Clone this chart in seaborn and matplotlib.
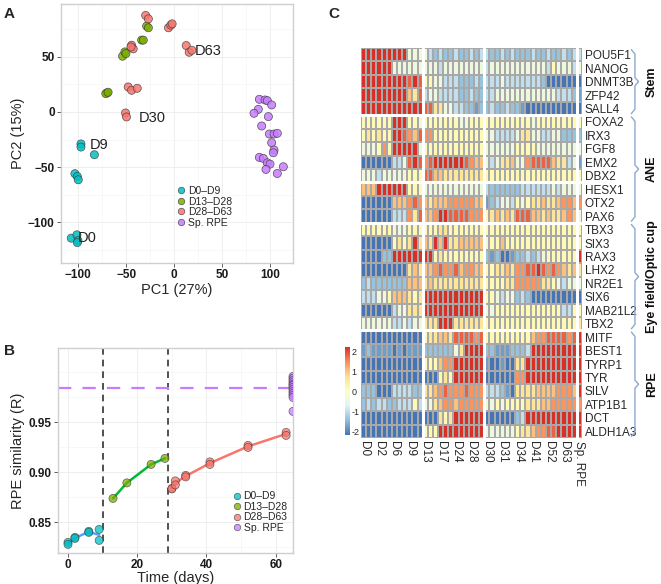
import numpy as np
import pandas as pd
import matplotlib
matplotlib.use("Agg")
import matplotlib.pyplot as plt
import seaborn as sns
from matplotlib.colors import LinearSegmentedColormap

# ---------------- panel A: PCA ----------------
groups = ["D0–D9", "D13–D28", "D28–D63", "Sp. RPE"]
point_colors = ["#00BFC4", "#7CAE00", "#F8766D", "#C77CFF"]
line_colors = ["#619CFF", "#00BA38", "#F8766D"]

pc1_d0_d9 = [-107.3, -101.4, -100.3, -101.0, -103.5, -101.0, -100.0, -97.2, -97.2, -83.2]
pc2_d0_d9 = [-114.5, -111.5, -116.7, -118.5, -56.0, -58.5, -61.5, -29.0, -31.8, -38.8]
pc1_d13_d28 = [-70.0, -71.3, -68.9, -53.8, -51.4, -50.3, -33.9, -32.2, -28.7, -26.9]
pc2_d13_d28 = [17.3, 16.7, 17.9, 50.6, 54.5, 53.0, 65.2, 65.2, 77.9, 76.4]
pc1_d28_d63 = [-29.7, -26.9, -5.9, -3.5, -2.1, 12.6, 15.7, 18.5, -44.4, -42.7, -45.0,
               -47.9, -44.4, -38.5, -50.7, -49.7]
pc2_d28_d63 = [87.6, 84.5, 76.4, 78.8, 80.0, 60.3, 54.2, 56.0, 60.6, 57.3, 59.0,
               22.7, 19.7, 21.5, -0.9, -4.5]
pc1_sp_rpe = [88.9, 94.8, 97.2, 101.7, 87.8, 83.3, 98.3, 91.3, 99.3, 104.2, 107.6,
              101.7, 104.2, 103.5, 88.9, 93.0, 97.2, 100.0, 95.8, 107.6, 113.9]
pc2_sp_rpe = [11.5, 10.9, 10.3, 6.4, 2.4, -1.2, -4.2, -12.7, -20.0, -20.0, -19.4,
              -27.9, -34.5, -37.0, -41.2, -42.1, -46.1, -47.3, -52.1, -55.8, -49.7]
pca_labels = ["D0", "D9", "D30", "D63"]
pca_label_pc1 = [-100.3, -88.1, -36.4, 22.0]
pca_label_pc2 = [-114.5, -29.7, -5.5, 55.0]

# ---------------- panel B: RPE similarity ----------------
day_d0_d9 = [0, 0, 2, 2, 6, 6, 9, 9]
r_d0_d9 = [0.830, 0.828, 0.835, 0.834, 0.841, 0.840, 0.843, 0.832]
day_d13_d28 = [13, 17, 24, 28]
r_d13_d28 = [0.874, 0.8895, 0.908, 0.914]
day_d28_d63 = [30, 30, 31, 31, 34, 34, 41, 41, 52, 52, 63, 63]
r_d28_d63 = [0.884, 0.8835, 0.8915, 0.8875, 0.897, 0.8955, 0.9105, 0.908,
             0.927, 0.925, 0.940, 0.937]
day_sp_rpe = [65] * 13
r_sp_rpe = [0.996, 0.994, 0.992, 0.990, 0.988, 0.987, 0.985, 0.983, 0.981,
            0.979, 0.977, 0.975, 0.961]
sp_rpe_mean = 0.984
stage_breaks = [10, 29]

# ---------------- panel C: heatmap ----------------
# cell codes, blocks: D0-D9 (12) | D13-D28 (12) | D30-D63 (18) | Sp. RPE (1)
level = {"B": -2.2, "b": -1.8, "m": -1.4, "l": -1.0, "w": -0.4, "y": 0.15,
         "Y": 0.6, "o": 1.0, "O": 1.4, "r": 1.8, "R": 2.2}
stem_genes = ["POU5F1", "NANOG", "DNMT3B", "ZFP42", "SALL4"]
stem_rows = [
    "RRRRRRRRRwww wlmlmmlmmlml lmmlmlmmmlmmlmmlml l",
    "RRRRRRwwwwww wwwlwwwwwwww lwwwwwwwwwwwlywwwl w",
    "RRRRRRRRRrRr yywwlllmmmlm lllwlllllllmBBBBBB B",
    "RRRRRRRRRoYr lwwllllmmlmm llwwwwwwwwwwwwlllm b",
    "RRRRRRRRRRRR rrYYwwllmmbm mlmmlmmbBBBBBBBBBB B",
]
ane_genes = ["FOXA2", "IRX3", "FGF8", "EMX2", "DBX2", "HESX1", "OTX2", "PAX6"]
ane_rows = [
    "yyyyyyRRRyyw yyyyyyywwyyy yyyyyyyyywyyyyyyyy y",
    "yYyYyyRRrOor OOyyyyyyyyyy wwllllwYYwwllwwmmm m",
    "wwwyOyRRRRRw yyyyyyyyyyyy wwwwwwyyyywwwwwwww w",
    "BBBBBBllwrRr OrRRRRRRrOoo wlwYYowwOrrrroYYlw b",
    "wwwlwwwwwyyy rrooYYYYYYYY yyyyyyyyyyyyyyyyyy y",
    "oooRRRRRRyyy wwwwwwwwwwww lmmmmmmllllllwlwww w",
    "BBBBBBoooOrO oYoooOOOOOoo bmlwwlywyYYoYYoOOo O",
    "BBBBBBlllOYr ooORRrrrrOOO yYoYoYrrrooYoYYoOo w",
]
eye_genes = ["TBX3", "SIX3", "RAX3", "LHX2", "NR2E1", "SIX6", "MAB21L2", "TBX2"]
eye_rows = [
    "yyyyyywwwyyy yyyYYyyyyyyy yyyyyyyyyyyyyyyyyy y",
    "BBBBBByYyYRY oYRoRYYooooo wyyoyyyyyyyyyyyyyy y",
    "BBBBmmRRRRRR RRyYyyyyyyyy mbmBBbmmlmlwyyyyyy R",
    "BBBBBBBBBYoY ooOrOOroOOoo yyYYoYOOrrRrOrOoYo Y",
    "mlmmmmmmmooo YoYYYYYYYYYY yyyyYYOOOOOYYywlww w",
    "lllwwyoooYyY RRRRRRRRRRRR yywlwwmlmBBBBBBBBB B",
    "BBBBBBlwwYYY RRRRRRRRRRRR wwyyyyyyyyyyyyylly y",
    "wwwwwwllwlww YYYRRRYYYYYY yyyyyyyyyyyyyyyyyy Y",
]
rpe_genes = ["MITF", "BEST1", "TYRP1", "TYR", "SILV", "ATP1B1", "DCT", "ALDH1A3"]
rpe_rows = [
    "BBBBBBBBBBBB yYYooYrrrrOr yyyyyyyyyoOOrrrrOr R",
    "bmbbbbBbBbbb mmmmmmwYRRRR mmbbbmmmlRRRRRRRRR R",
    "BBBBBBBBBBBB yyyoOORRRRRR bBBbBBYYRRRRRRRRRR R",
    "BBBBBBBBBBBB BBByYyRRRRRR BBBBBBOORRRRRRRRRR R",
    "mmmBBBllllmm YYoOrOOOrOOO lllmbBYYYYooooOOOo R",
    "mlmllmmlllyl wwYoOOoOOOOO wwywyyyyYYYooOOOOO O",
    "BBBBBBBBBBBB BBBYyYRRRRRR BBBBBBmlRRRRRRRRRR R",
    "BBBBBBBBBBBB yyyRRRRRRRRR wwwwwwyYYoOOrrRRRR R",
]
sample_labels = ["D0", "D2", "D6", "D9", "D13", "D17", "D24", "D28", "D30", "D31",
                 "D34", "D41", "D52", "D63", "Sp. RPE"]
group_names = ["Stem", "ANE", "Eye field/Optic cup", "RPE"]

# ---------------- build tables ----------------
pca_df = pd.concat([
    pd.DataFrame({"PC1": pc1_d0_d9, "PC2": pc2_d0_d9, "group": groups[0]}),
    pd.DataFrame({"PC1": pc1_d13_d28, "PC2": pc2_d13_d28, "group": groups[1]}),
    pd.DataFrame({"PC1": pc1_d28_d63, "PC2": pc2_d28_d63, "group": groups[2]}),
    pd.DataFrame({"PC1": pc1_sp_rpe, "PC2": pc2_sp_rpe, "group": groups[3]}),
], ignore_index=True)

sim_df = pd.concat([
    pd.DataFrame({"day": day_d0_d9, "r": r_d0_d9, "group": groups[0]}),
    pd.DataFrame({"day": day_d13_d28, "r": r_d13_d28, "group": groups[1]}),
    pd.DataFrame({"day": day_d28_d63, "r": r_d28_d63, "group": groups[2]}),
    pd.DataFrame({"day": day_sp_rpe, "r": r_sp_rpe, "group": groups[3]}),
], ignore_index=True)

genes = stem_genes + ane_genes + eye_genes + rpe_genes
rows = stem_rows + ane_rows + eye_rows + rpe_rows
mat = np.array([[level[c] for c in r.replace(" ", "")] for r in rows])
heat_df = pd.DataFrame(mat, index=genes)

pal = dict(zip(groups, point_colors))
line_pal = dict(zip(groups[:3], line_colors))

sns.set_theme(style="white")
plt.rcParams["font.family"] = ["Liberation Sans", "DejaVu Sans"]

fig = plt.figure(figsize=(6.61, 5.84), dpi=100)
axA = fig.add_axes([0.0923, 0.5497, 0.351, 0.4435])
axB = fig.add_axes([0.0877, 0.0531, 0.3556, 0.351])
axC = fig.add_axes([0.5461, 0.25, 0.3344, 0.6678])
cax = fig.add_axes([0.5219, 0.2551, 0.0076, 0.1507])


def style_gg(ax):
    ax.grid(True, which="major", color="#EBEBEB", lw=0.6)
    ax.grid(True, which="minor", color="#F4F4F4", lw=0.4)
    ax.set_axisbelow(True)
    for s in ax.spines.values():
        s.set_color("#CFCFCF")
        s.set_linewidth(1.0)
    ax.tick_params(axis="both", which="major", length=3, width=0.6, color="#444",
                   labelsize=8.5, labelcolor="#1a1a1a", pad=1.5, bottom=True, left=True)
    ax.tick_params(axis="both", which="minor", length=0)
    for lab in ax.get_xticklabels() + ax.get_yticklabels():
        lab.set_fontweight("bold")


# ---- A ----
sns.scatterplot(data=pca_df, x="PC1", y="PC2", hue="group", palette=pal, s=34,
                edgecolor="#3a3a3a", linewidth=0.5, alpha=0.85, ax=axA)
for t, x, y in zip(pca_labels, pca_label_pc1, pca_label_pc2):
    axA.text(x, y, t, fontsize=10.5, ha="left", va="center", color="#222")
axA.set_xticks([-100, -50, 0, 50, 100])
axA.set_yticks([-100, -50, 0, 50])
axA.set_xticks(np.arange(-100, 125, 25), minor=True)
axA.set_yticks(np.arange(-125, 100, 25), minor=True)
axA.set_xlim(-118, 124)
axA.set_ylim(-137, 98)
axA.set_xlabel("PC1 (27%)", fontsize=10.5, labelpad=1)
axA.set_ylabel("PC2 (15%)", fontsize=10.5, labelpad=2)
style_gg(axA)
axA.legend(loc="upper left", bbox_to_anchor=(0.465, 0.325), frameon=False, fontsize=7.5,
           handletextpad=0.1, labelspacing=0.05, borderpad=0.2, markerscale=0.8,
           handlelength=1.0, title=None)

# ---- B ----
sns.lineplot(data=sim_df[sim_df.group != groups[3]], x="day", y="r", hue="group",
             palette=line_pal, estimator="mean", errorbar=None, lw=1.8, legend=False, ax=axB)
sns.scatterplot(data=sim_df, x="day", y="r", hue="group", palette=pal, s=34,
                edgecolor="#3a3a3a", linewidth=0.5, alpha=0.75, ax=axB, zorder=3)
for xb in stage_breaks:
    axB.axvline(xb, color="#333", lw=1.2, ls=(0, (4, 3)))
axB.axhline(sp_rpe_mean, color="#C77CFF", lw=1.6, ls=(0, (6, 5)))
axB.set_xticks([0, 20, 40, 60])
axB.set_yticks([0.85, 0.90, 0.95])
axB.set_yticklabels(["0.85", "0.90", "0.95"])
axB.set_xticks(np.arange(0, 70, 10), minor=True)
axB.set_yticks(np.arange(0.825, 1.025, 0.025), minor=True)
axB.set_xlim(-2.9, 65)
axB.set_ylim(0.8194, 1.0244)
axB.set_xlabel("Time (days)", fontsize=10.5, labelpad=0)
axB.set_ylabel("RPE similarity (R)", fontsize=10.5, labelpad=3)
style_gg(axB)
axB.legend(loc="upper left", bbox_to_anchor=(0.71, 0.337), frameon=False, fontsize=7.5,
           handletextpad=0.1, labelspacing=0.05, borderpad=0.2, markerscale=0.8,
           handlelength=1.0, title=None)

# ---- C ----
cmap = LinearSegmentedColormap.from_list(
    "rdylbu", ["#4575B4", "#91BFDB", "#E0F3F8", "#FFFFBF", "#FEE090", "#FC8D59", "#D73027"])
sns.heatmap(heat_df, cmap=cmap, vmin=-2.2, vmax=2.2, linewidths=0.3, linecolor="#a8a8a8",
            xticklabels=False, yticklabels=True, cbar_ax=cax, ax=axC)
for r in [5, 10, 13, 21]:
    axC.axhline(r, color="white", lw=2.2)
for c in [12, 24, 42]:
    axC.axvline(c, color="white", lw=2.2)
axC.set_xticks(np.array([0, 3, 6, 9, 12, 15, 18, 21, 24, 27, 30, 33, 36, 39, 42]) + 0.5)
axC.set_xticklabels(sample_labels, rotation=270, fontsize=8.5)
axC.yaxis.tick_right()
axC.tick_params(axis="y", length=0, pad=2, labelsize=8.5, labelrotation=0)
axC.tick_params(axis="x", length=0, pad=2)
axC.set_xlabel("")
axC.set_ylabel("")

# group braces
spans = [(0, 5), (5, 13), (13, 21), (21, 29)]
for name, (y0, y1) in zip(group_names, spans):
    mid = (y0 + y1) / 2
    bx = [52.6, 53.3, 53.3, 54.0, 53.3, 53.3, 52.6]
    by = [y0 + 0.12, y0 + 0.45, mid - 0.3, mid, mid + 0.3, y1 - 0.45, y1 - 0.12]
    axC.plot(bx, by, color="#8FA8D0", lw=1.0, clip_on=False)
    axC.text(56.6, mid, name, rotation=90, ha="center", va="center",
             fontsize=9, fontweight="bold", color="#111", clip_on=False)

cax.tick_params(length=0, labelsize=6.5, pad=1)
cax.set_yticks([-2, -1, 0, 1, 2])
cax.set_yticklabels(["-2", "-1", "0", "1", "2"])
cax.yaxis.set_ticks_position("right")

fig.text(0.006, 0.988, "A", fontsize=11, fontweight="bold", va="top")
fig.text(0.006, 0.411, "B", fontsize=11, fontweight="bold", va="top")
fig.text(0.497, 0.988, "C", fontsize=11, fontweight="bold", va="top")

fig.savefig("out.png", dpi=100)
